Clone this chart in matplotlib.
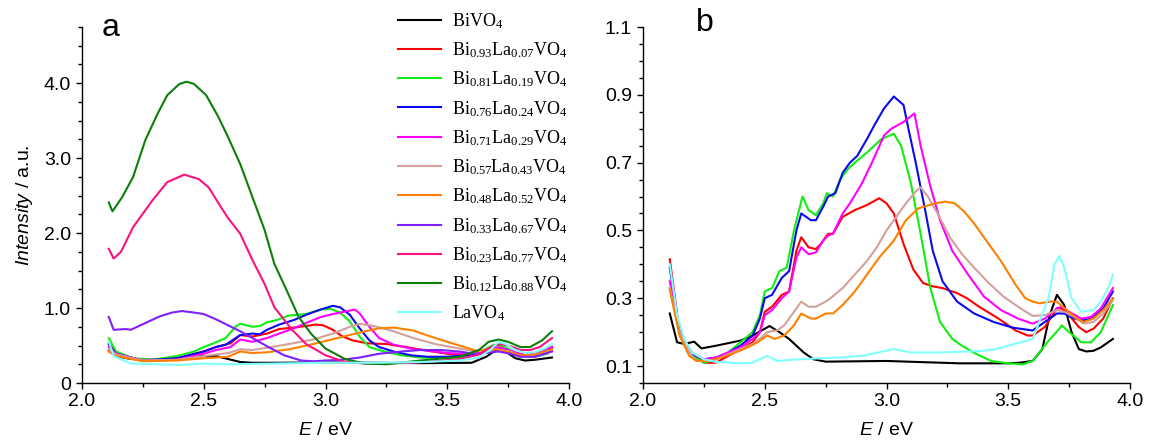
import matplotlib
matplotlib.use("Agg")
import matplotlib.pyplot as plt
from matplotlib.ticker import MultipleLocator, FixedLocator, FuncFormatter

plt.rcParams['font.family'] = ['Liberation Sans', 'DejaVu Sans']
plt.rcParams['mathtext.fontset'] = 'custom'
plt.rcParams['mathtext.rm'] = 'Liberation Serif'
plt.rcParams['mathtext.it'] = 'Liberation Sans:italic'
plt.rcParams['mathtext.bf'] = 'Liberation Serif:bold'

# ---------------- legend labels / colours ----------------
labels = [r'$\mathrm{BiVO_4}$',
          r'$\mathrm{Bi_{0.93}La_{0.07}VO_4}$',
          r'$\mathrm{Bi_{0.81}La_{0.19}VO_4}$',
          r'$\mathrm{Bi_{0.76}La_{0.24}VO_4}$',
          r'$\mathrm{Bi_{0.71}La_{0.29}VO_4}$',
          r'$\mathrm{Bi_{0.57}La_{0.43}VO_4}$',
          r'$\mathrm{Bi_{0.48}La_{0.52}VO_4}$',
          r'$\mathrm{Bi_{0.33}La_{0.67}VO_4}$',
          r'$\mathrm{Bi_{0.23}La_{0.77}VO_4}$',
          r'$\mathrm{Bi_{0.12}La_{0.88}VO_4}$',
          r'$\mathrm{LaVO_4}$']
colors = ['#000000', '#ff0000', '#11ee11', '#0a0aee', '#ff00ff', '#d4a09c',
          '#ff8000', '#8020ff', '#ff1080', '#0a7f0a', '#80ffff']

# ---------------- panel a data (E / eV, Intensity / a.u.) ----------------
a_E_00 = [2.11, 2.14, 2.2, 2.3, 2.4, 2.5, 2.55, 2.6, 2.65, 2.7, 2.8, 3.0, 3.2, 3.4, 3.6, 3.66, 3.7, 3.74, 3.78, 3.82, 3.86, 3.93]
a_I_00 = [0.44, 0.36, 0.32, 0.31, 0.33, 0.36, 0.36, 0.32, 0.28, 0.27, 0.27, 0.275, 0.27, 0.265, 0.27, 0.35, 0.44, 0.42, 0.33, 0.30, 0.31, 0.34]

a_E_07 = [2.11, 2.14, 2.25, 2.39, 2.5, 2.55, 2.61, 2.65, 2.7, 2.76, 2.81, 2.87, 2.92, 2.96, 2.99, 3.03, 3.07, 3.11, 3.17, 3.25, 3.33, 3.42, 3.5, 3.58, 3.64, 3.69, 3.72, 3.76, 3.8, 3.86, 3.93]
a_I_07 = [0.53, 0.39, 0.30, 0.33, 0.42, 0.48, 0.53, 0.64, 0.62, 0.66, 0.72, 0.74, 0.76, 0.78, 0.77, 0.71, 0.62, 0.57, 0.53, 0.52, 0.48, 0.43, 0.39, 0.36, 0.39, 0.46, 0.48, 0.43, 0.37, 0.37, 0.48]

a_E_19 = [2.11, 2.14, 2.21, 2.29, 2.39, 2.46, 2.5, 2.54, 2.59, 2.63, 2.65, 2.7, 2.73, 2.76, 2.8, 2.85, 2.92, 2.98, 3.02, 3.06, 3.1, 3.14, 3.18, 3.24, 3.31, 3.39, 3.49, 3.58, 3.64, 3.69, 3.72, 3.76, 3.8, 3.86, 3.91, 3.93]
a_I_19 = [0.60, 0.42, 0.33, 0.31, 0.36, 0.42, 0.48, 0.53, 0.60, 0.75, 0.79, 0.75, 0.76, 0.81, 0.84, 0.90, 0.92, 0.98, 0.99, 0.94, 0.82, 0.62, 0.48, 0.42, 0.37, 0.34, 0.33, 0.35, 0.42, 0.51, 0.50, 0.44, 0.37, 0.35, 0.39, 0.44]

a_E_24 = [2.11, 2.14, 2.25, 2.39, 2.5, 2.55, 2.59, 2.65, 2.7, 2.73, 2.76, 2.81, 2.87, 2.92, 2.98, 3.03, 3.06, 3.1, 3.14, 3.18, 3.22, 3.28, 3.35, 3.42, 3.5, 3.58, 3.62, 3.68, 3.71, 3.75, 3.8, 3.84, 3.9, 3.93]
a_I_24 = [0.51, 0.39, 0.30, 0.33, 0.42, 0.48, 0.51, 0.64, 0.66, 0.65, 0.71, 0.78, 0.84, 0.91, 0.98, 1.03, 1.01, 0.91, 0.73, 0.57, 0.48, 0.42, 0.37, 0.35, 0.35, 0.37, 0.39, 0.45, 0.47, 0.44, 0.37, 0.37, 0.42, 0.47]

a_E_29 = [2.11, 2.14, 2.25, 2.39, 2.5, 2.55, 2.61, 2.65, 2.7, 2.76, 2.81, 2.87, 2.92, 2.98, 3.03, 3.09, 3.12, 3.14, 3.18, 3.22, 3.28, 3.35, 3.42, 3.5, 3.58, 3.64, 3.69, 3.72, 3.76, 3.8, 3.86, 3.93]
a_I_29 = [0.48, 0.39, 0.30, 0.31, 0.39, 0.44, 0.48, 0.58, 0.55, 0.60, 0.66, 0.73, 0.80, 0.88, 0.92, 0.96, 0.98, 0.93, 0.75, 0.60, 0.51, 0.46, 0.43, 0.40, 0.39, 0.41, 0.46, 0.47, 0.43, 0.39, 0.39, 0.48]

a_E_43 = [2.11, 2.14, 2.25, 2.39, 2.5, 2.6, 2.65, 2.7, 2.76, 2.85, 2.95, 3.03, 3.1, 3.14, 3.2, 3.28, 3.36, 3.45, 3.55, 3.62, 3.67, 3.7, 3.76, 3.8, 3.86, 3.93]
a_I_43 = [0.45, 0.38, 0.30, 0.31, 0.36, 0.40, 0.45, 0.44, 0.47, 0.52, 0.58, 0.66, 0.75, 0.79, 0.76, 0.69, 0.60, 0.52, 0.46, 0.42, 0.44, 0.45, 0.42, 0.36, 0.36, 0.43]

a_E_52 = [2.11, 2.14, 2.25, 2.39, 2.5, 2.6, 2.65, 2.7, 2.76, 2.85, 2.95, 3.05, 3.15, 3.22, 3.28, 3.36, 3.45, 3.55, 3.62, 3.67, 3.7, 3.76, 3.8, 3.86, 3.93]
a_I_52 = [0.42, 0.36, 0.29, 0.30, 0.33, 0.35, 0.42, 0.40, 0.41, 0.45, 0.52, 0.60, 0.68, 0.73, 0.74, 0.70, 0.60, 0.50, 0.43, 0.45, 0.45, 0.41, 0.37, 0.38, 0.45]

a_E_67 = [2.11, 2.13, 2.18, 2.2, 2.26, 2.32, 2.37, 2.41, 2.46, 2.5, 2.55, 2.6, 2.65, 2.7, 2.76, 2.83, 2.9, 2.95, 3.0, 3.07, 3.14, 3.22, 3.31, 3.39, 3.47, 3.55, 3.61, 3.66, 3.71, 3.76, 3.8, 3.86, 3.93]
a_I_67 = [0.88, 0.71, 0.72, 0.71, 0.80, 0.89, 0.94, 0.96, 0.94, 0.92, 0.85, 0.77, 0.69, 0.60, 0.49, 0.37, 0.30, 0.29, 0.30, 0.31, 0.34, 0.39, 0.42, 0.44, 0.44, 0.42, 0.39, 0.40, 0.42, 0.39, 0.35, 0.35, 0.42]

a_E_77 = [2.11, 2.13, 2.16, 2.21, 2.29, 2.35, 2.42, 2.48, 2.52, 2.57, 2.6, 2.65, 2.7, 2.75, 2.79, 2.86, 2.92, 3.0, 3.08, 3.16, 3.25, 3.35, 3.45, 3.55, 3.63, 3.68, 3.72, 3.76, 3.8, 3.84, 3.88, 3.93]
a_I_77 = [1.79, 1.66, 1.75, 2.08, 2.44, 2.68, 2.78, 2.72, 2.61, 2.35, 2.20, 1.99, 1.64, 1.32, 1.01, 0.72, 0.52, 0.37, 0.28, 0.26, 0.26, 0.27, 0.29, 0.32, 0.38, 0.48, 0.52, 0.49, 0.44, 0.44, 0.48, 0.60]

a_E_88 = [2.11, 2.125, 2.165, 2.21, 2.26, 2.31, 2.35, 2.4, 2.43, 2.46, 2.51, 2.56, 2.6, 2.65, 2.7, 2.75, 2.79, 2.84, 2.89, 2.94, 3.0, 3.08, 3.16, 3.25, 3.39, 3.55, 3.63, 3.67, 3.71, 3.75, 3.8, 3.84, 3.89, 3.93]
a_I_88 = [2.41, 2.29, 2.48, 2.75, 3.24, 3.59, 3.84, 3.99, 4.02, 3.99, 3.84, 3.55, 3.28, 2.92, 2.48, 2.04, 1.59, 1.24, 0.88, 0.66, 0.46, 0.32, 0.26, 0.25, 0.30, 0.35, 0.44, 0.55, 0.58, 0.55, 0.48, 0.48, 0.57, 0.69]

a_E_La = [2.11, 2.13, 2.17, 2.2, 2.3, 2.4, 2.5, 2.6, 2.8, 3.0, 3.2, 3.4, 3.55, 3.63, 3.68, 3.71, 3.74, 3.78, 3.82, 3.86, 3.9, 3.93]
a_I_La = [0.55, 0.36, 0.30, 0.26, 0.25, 0.24, 0.26, 0.25, 0.26, 0.27, 0.27, 0.28, 0.30, 0.34, 0.45, 0.55, 0.52, 0.44, 0.40, 0.41, 0.46, 0.52]

# ---------------- panel b data ----------------
b_E_00 = [2.11, 2.14, 2.17, 2.21, 2.24, 2.3, 2.4, 2.45, 2.52, 2.56, 2.6, 2.63, 2.66, 2.7, 2.75, 3.0, 3.3, 3.5, 3.55, 3.6, 3.64, 3.67, 3.7, 3.73, 3.76, 3.79, 3.82, 3.85, 3.88, 3.91, 3.93]
b_V_00 = [0.255, 0.17, 0.165, 0.172, 0.152, 0.16, 0.175, 0.19, 0.218, 0.20, 0.18, 0.16, 0.14, 0.12, 0.113, 0.115, 0.108, 0.108, 0.11, 0.115, 0.15, 0.25, 0.31, 0.28, 0.20, 0.15, 0.143, 0.145, 0.155, 0.17, 0.18]

b_E_07 = [2.11, 2.15, 2.2, 2.25, 2.3, 2.35, 2.4, 2.45, 2.48, 2.5, 2.53, 2.57, 2.6, 2.63, 2.65, 2.68, 2.71, 2.73, 2.76, 2.78, 2.82, 2.87, 2.92, 2.97, 3.0, 3.03, 3.07, 3.11, 3.15, 3.19, 3.23, 3.29, 3.33, 3.38, 3.46, 3.53, 3.58, 3.6, 3.65, 3.7, 3.72, 3.75, 3.79, 3.82, 3.85, 3.89, 3.93]
b_V_07 = [0.415, 0.20, 0.14, 0.11, 0.11, 0.13, 0.15, 0.17, 0.20, 0.26, 0.275, 0.31, 0.32, 0.44, 0.48, 0.45, 0.445, 0.46, 0.49, 0.49, 0.54, 0.56, 0.575, 0.595, 0.58, 0.55, 0.46, 0.385, 0.345, 0.335, 0.33, 0.315, 0.30, 0.275, 0.24, 0.205, 0.19, 0.19, 0.215, 0.27, 0.27, 0.25, 0.215, 0.20, 0.21, 0.24, 0.30]

b_E_19 = [2.11, 2.15, 2.2, 2.25, 2.3, 2.35, 2.4, 2.45, 2.48, 2.5, 2.53, 2.56, 2.59, 2.62, 2.655, 2.68, 2.71, 2.74, 2.755, 2.78, 2.81, 2.84, 2.87, 2.92, 2.98, 3.03, 3.06, 3.1, 3.14, 3.18, 3.22, 3.27, 3.31, 3.37, 3.43, 3.5, 3.56, 3.6, 3.66, 3.71, 3.72, 3.75, 3.8, 3.84, 3.88, 3.93]
b_V_19 = [0.33, 0.20, 0.13, 0.11, 0.12, 0.14, 0.17, 0.20, 0.25, 0.32, 0.33, 0.38, 0.39, 0.50, 0.60, 0.56, 0.545, 0.58, 0.61, 0.60, 0.65, 0.68, 0.70, 0.73, 0.77, 0.785, 0.75, 0.64, 0.49, 0.33, 0.23, 0.18, 0.16, 0.135, 0.115, 0.108, 0.105, 0.115, 0.17, 0.21, 0.22, 0.20, 0.17, 0.17, 0.20, 0.28]

b_E_24 = [2.11, 2.15, 2.2, 2.25, 2.3, 2.35, 2.4, 2.45, 2.48, 2.5, 2.53, 2.57, 2.6, 2.63, 2.65, 2.69, 2.71, 2.74, 2.76, 2.79, 2.82, 2.85, 2.88, 2.92, 2.95, 2.99, 3.03, 3.07, 3.09, 3.12, 3.16, 3.19, 3.23, 3.29, 3.36, 3.44, 3.52, 3.6, 3.65, 3.7, 3.73, 3.77, 3.81, 3.85, 3.89, 3.93]
b_V_24 = [0.39, 0.20, 0.135, 0.12, 0.125, 0.14, 0.16, 0.19, 0.24, 0.30, 0.31, 0.36, 0.38, 0.50, 0.55, 0.53, 0.53, 0.57, 0.60, 0.61, 0.67, 0.70, 0.72, 0.77, 0.81, 0.86, 0.895, 0.87, 0.80, 0.70, 0.555, 0.44, 0.35, 0.29, 0.255, 0.23, 0.213, 0.205, 0.23, 0.255, 0.255, 0.24, 0.235, 0.245, 0.27, 0.32]

b_E_29 = [2.11, 2.15, 2.2, 2.25, 2.3, 2.35, 2.4, 2.45, 2.48, 2.5, 2.53, 2.57, 2.6, 2.63, 2.65, 2.68, 2.71, 2.74, 2.76, 2.78, 2.82, 2.85, 2.9, 2.94, 2.99, 3.02, 3.07, 3.115, 3.14, 3.18, 3.22, 3.27, 3.33, 3.4, 3.47, 3.54, 3.6, 3.65, 3.7, 3.72, 3.75, 3.8, 3.84, 3.88, 3.93]
b_V_29 = [0.35, 0.20, 0.14, 0.12, 0.125, 0.14, 0.155, 0.18, 0.20, 0.25, 0.265, 0.30, 0.32, 0.42, 0.45, 0.43, 0.435, 0.47, 0.485, 0.49, 0.55, 0.58, 0.64, 0.70, 0.78, 0.80, 0.82, 0.845, 0.75, 0.63, 0.53, 0.44, 0.375, 0.305, 0.265, 0.24, 0.225, 0.24, 0.27, 0.275, 0.26, 0.24, 0.245, 0.27, 0.33]

b_E_43 = [2.11, 2.15, 2.19, 2.22, 2.25, 2.3, 2.35, 2.4, 2.45, 2.48, 2.51, 2.55, 2.58, 2.62, 2.65, 2.68, 2.71, 2.75, 2.77, 2.82, 2.87, 2.92, 2.96, 3.0, 3.04, 3.08, 3.12, 3.14, 3.17, 3.21, 3.26, 3.31, 3.36, 3.42, 3.48, 3.55, 3.6, 3.65, 3.7, 3.73, 3.77, 3.81, 3.85, 3.89, 3.93]
b_V_43 = [0.33, 0.20, 0.14, 0.115, 0.115, 0.12, 0.135, 0.15, 0.165, 0.18, 0.20, 0.205, 0.22, 0.26, 0.29, 0.275, 0.275, 0.29, 0.30, 0.33, 0.37, 0.41, 0.45, 0.50, 0.54, 0.58, 0.615, 0.627, 0.60, 0.55, 0.48, 0.43, 0.39, 0.345, 0.305, 0.27, 0.248, 0.25, 0.265, 0.26, 0.245, 0.225, 0.23, 0.255, 0.295]

b_E_52 = [2.11, 2.15, 2.19, 2.22, 2.27, 2.32, 2.38, 2.43, 2.47, 2.51, 2.54, 2.58, 2.62, 2.65, 2.69, 2.71, 2.75, 2.78, 2.82, 2.87, 2.92, 2.97, 3.03, 3.08, 3.13, 3.2, 3.24, 3.28, 3.32, 3.36, 3.41, 3.47, 3.53, 3.57, 3.6, 3.63, 3.67, 3.7, 3.74, 3.78, 3.81, 3.85, 3.89, 3.93]
b_V_52 = [0.325, 0.19, 0.13, 0.115, 0.115, 0.125, 0.14, 0.155, 0.17, 0.19, 0.18, 0.19, 0.22, 0.255, 0.24, 0.24, 0.255, 0.255, 0.28, 0.32, 0.37, 0.42, 0.47, 0.53, 0.565, 0.58, 0.585, 0.58, 0.555, 0.52, 0.47, 0.41, 0.34, 0.30, 0.29, 0.285, 0.29, 0.29, 0.265, 0.24, 0.23, 0.24, 0.265, 0.30]

b_E_La = [2.11, 2.14, 2.17, 2.2, 2.25, 2.3, 2.4, 2.45, 2.51, 2.55, 2.6, 2.7, 2.8, 2.9, 3.03, 3.1, 3.2, 3.3, 3.4, 3.45, 3.5, 3.55, 3.6, 3.63, 3.665, 3.69, 3.71, 3.73, 3.76, 3.8, 3.85, 3.88, 3.91, 3.93]
b_V_La = [0.40, 0.25, 0.18, 0.14, 0.12, 0.112, 0.108, 0.11, 0.13, 0.115, 0.118, 0.122, 0.125, 0.13, 0.15, 0.14, 0.14, 0.142, 0.145, 0.15, 0.16, 0.17, 0.18, 0.235, 0.30, 0.40, 0.425, 0.39, 0.30, 0.26, 0.265, 0.29, 0.33, 0.37]

a_series = [(a_E_00, a_I_00), (a_E_07, a_I_07), (a_E_19, a_I_19), (a_E_24, a_I_24),
            (a_E_29, a_I_29), (a_E_43, a_I_43), (a_E_52, a_I_52), (a_E_67, a_I_67),
            (a_E_77, a_I_77), (a_E_88, a_I_88), (a_E_La, a_I_La)]
b_series = {0: (b_E_00, b_V_00), 1: (b_E_07, b_V_07), 2: (b_E_19, b_V_19), 3: (b_E_24, b_V_24),
            4: (b_E_29, b_V_29), 5: (b_E_43, b_V_43), 6: (b_E_52, b_V_52), 10: (b_E_La, b_V_La)}

W, H = 1150, 441
fig = plt.figure(figsize=(W / 100, H / 100), dpi=100)
axa = fig.add_axes([82 / W, 1 - 383 / H, (569 - 82) / W, (383 - 27) / H])
axb = fig.add_axes([643 / W, 1 - 383 / H, (1130 - 643) / W, (383 - 27) / H])

lw = 1.5
handles = []
for i, (e, v) in enumerate(a_series):
    h, = axa.plot(e, v, color=colors[i], lw=lw, label=labels[i])
    handles.append(h)
for i, (e, v) in b_series.items():
    axb.plot(e, v, color=colors[i], lw=lw)

for ax in (axa, axb):
    for s in ('top', 'right'):
        ax.spines[s].set_visible(False)
    for s in ('left', 'bottom'):
        ax.spines[s].set_linewidth(1.0)
    ax.set_xlim(2.0, 4.0)
    ax.xaxis.set_major_locator(MultipleLocator(0.5))
    ax.xaxis.set_minor_locator(MultipleLocator(0.25))
    ax.xaxis.set_major_formatter(FuncFormatter(lambda x, p: f'{x:.1f}'))
    ax.tick_params(which='major', direction='out', length=4, width=1.0, labelsize=14, pad=3)
    ax.tick_params(which='minor', direction='out', length=3.2, width=1.0)
    ax.tick_params(axis='y', which='major', pad=4)
    ax.set_xlabel(r'$\it{E}$ / eV', fontsize=14, labelpad=9)

axa.set_ylim(0, 4.75)
axa.yaxis.set_major_locator(FixedLocator([0, 1, 2, 3, 4]))
axa.yaxis.set_minor_locator(MultipleLocator(0.25))
axa.yaxis.set_major_formatter(FuncFormatter(lambda y, p: '0' if y == 0 else f'{y:.1f}'))
axa.set_ylabel(r'$\it{Intensity}$ / a.u.', fontsize=14, labelpad=6)

axb.set_ylim(0.05, 1.1)
axb.yaxis.set_major_locator(FixedLocator([0.1, 0.3, 0.5, 0.7, 0.9, 1.1]))
axb.yaxis.set_minor_locator(MultipleLocator(0.05))
axb.yaxis.set_major_formatter(FuncFormatter(lambda y, p: f'{y:.1f}'))

fig.text(111 / W, 1 - 28 / H, 'a', fontsize=23, ha='center', va='center')
fig.text(705 / W, 1 - 23 / H, 'b', fontsize=23, ha='center', va='center')

fig.legend(handles=handles, labels=labels, loc='upper left',
           bbox_to_anchor=(398 / W, 1 - 11 / H), frameon=False, fontsize=13,
           handlelength=2.4, handletextpad=0.6, labelspacing=0.53,
           borderpad=0, borderaxespad=0)

fig.savefig('out.png', dpi=100)
